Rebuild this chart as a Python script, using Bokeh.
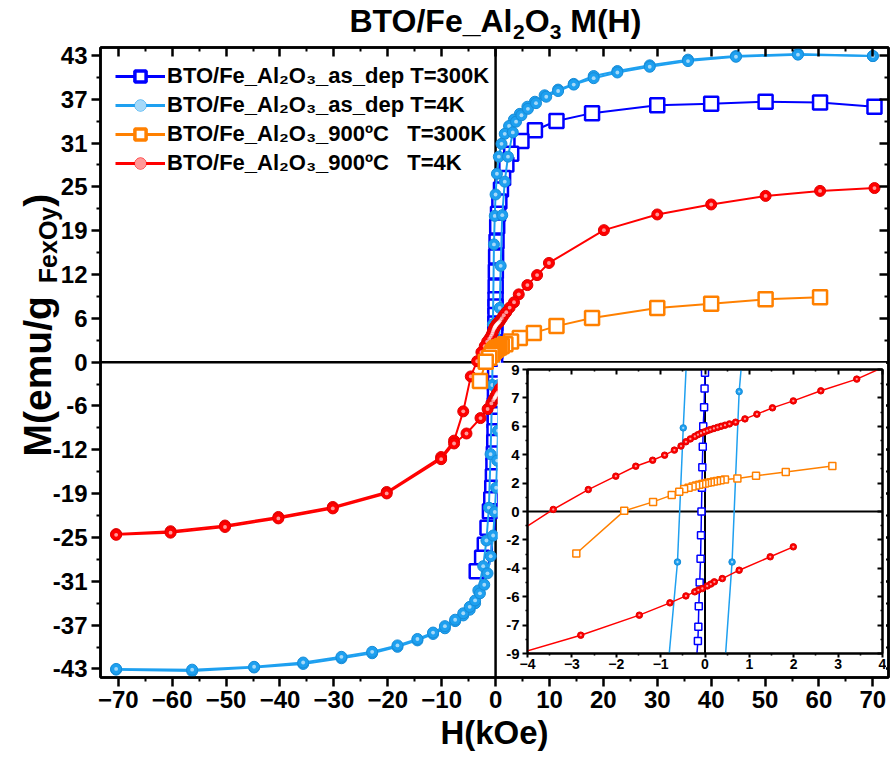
import math

from jinja2 import Template
from bokeh.plotting import figure
from bokeh.models import (Range1d, LinearAxis, FixedTicker, Span, Legend, LegendItem,
                          Label, ColumnDataSource, CustomLabelingPolicy)
from bokeh.embed import file_html
from bokeh.resources import INLINE

FONT = "Liberation Sans"

# ---------------------------------------------------------------- data
# BTO/Fe_Al2O3 as deposited, T = 300 K (field sweep from +70 kOe down)
H_ASDEP_300 = [70.3, 60.2, 50.1, 40.0, 30.0, 17.9, 11.3, 7.3, 4.8, 2.9, 2.0, 1.4, 1.0, 0.7,
               0.45, 0.3, 0.18, 0.1, 0.05, 0.02, 0.0, -0.01, -0.02, -0.04, -0.05, -0.06,
               -0.07, -0.08, -0.09, -0.10, -0.12, -0.14, -0.15, -0.16, -0.2, -0.25, -0.32,
               -0.4, -0.5, -0.62, -0.8, -1.05, -1.5, -2.0, -2.5, -3.5]
M_ASDEP_300 = [35.8, 36.4, 36.5, 36.2, 36.0, 34.9, 33.8, 32.5, 31.0, 29.2, 27.7, 25.8, 24.2,
               22.5, 20.8, 19.0, 16.9, 14.8, 12.7, 10.6, 8.8, 7.8, 6.6, 5.4, 4.1, 2.8, 1.5,
               0.0, -1.5, -3.0, -4.5, -6.0, -7.3, -8.2, -9.7, -11.2, -12.8, -14.4, -16.0,
               -17.6, -19.2, -20.9, -23.2, -25.6, -27.4, -29.3]

# BTO/Fe_Al2O3 as deposited, T = 4 K (descending and ascending branches)
H_ASDEP_4_DOWN = [70.0, 56.1, 44.6, 35.7, 28.6, 22.6, 18.2, 14.5, 11.6, 9.1, 7.3, 5.9, 4.5,
                  3.4, 2.5, 1.7, 1.1, 0.6, 0.25, 0.0, -0.15, -0.3, -0.49, -0.62, -0.93,
                  -1.24, -1.7, -2.3, -3.2, -3.8, -4.8, -6.0, -7.5, -9.4, -11.6, -14.5,
                  -18.2, -22.9, -28.6, -35.7, -44.8, -56.3, -70.4]
M_ASDEP_4_DOWN = [42.9, 43.2, 42.9, 42.4, 41.6, 40.8, 40.1, 39.0, 38.2, 37.4, 36.5, 35.8,
                  34.8, 34.0, 33.1, 32.0, 30.6, 28.8, 26.4, 23.5, 20.5, 16.5, 5.3, -3.2,
                  -12.9, -20.4, -25.0, -28.6, -32.0, -33.8, -34.7, -35.5, -36.3, -37.3,
                  -38.1, -39.0, -39.9, -40.8, -41.5, -42.3, -42.8, -43.3, -43.1]
H_ASDEP_4_UP = [-70.4, -56.3, -44.8, -35.7, -28.6, -22.9, -18.2, -14.5, -11.6, -9.4, -7.5,
                -6.0, -4.8, -3.8, -2.9, -2.1, -1.5, -0.9, -0.45, -0.15, 0.1, 0.3, 0.45,
                0.61, 0.77, 0.95, 1.24, 1.7, 2.3, 3.2, 3.8, 4.8, 6.0, 7.5, 9.4, 11.6, 14.5,
                18.2, 22.6, 28.6, 35.7, 44.6, 56.1, 70.0]
M_ASDEP_4_UP = [-43.0, -43.1, -42.7, -42.1, -41.3, -40.6, -39.7, -38.8, -37.9, -37.0, -36.1,
                -35.2, -34.3, -33.4, -32.4, -31.2, -29.6, -27.2, -24.3, -21.0, -17.6, -13.8,
                -9.6, -3.2, 7.6, 13.5, 20.6, 25.3, 28.8, 32.2, 33.7, 34.6, 35.5, 36.3, 37.2,
                38.0, 38.9, 39.8, 40.6, 41.4, 42.2, 42.8, 43.1, 42.9]

# BTO/Fe_Al2O3 annealed at 900 ºC, T = 300 K
H_900_300 = [60.2, 50.1, 40.0, 30.0, 17.9, 11.3, 7.1, 4.5, 2.87, 1.82, 1.15, 0.73, 0.45,
             0.35, 0.27, 0.2, 0.13, 0.06, 0.0, -0.06, -0.13, -0.2, -0.28, -0.37, -0.47,
             -0.58, -0.75, -1.17, -1.82, -2.9]
M_900_300 = [9.1, 8.8, 8.2, 7.6, 6.2, 5.05, 4.1, 3.4, 2.89, 2.51, 2.26, 2.09, 2.03, 1.98,
             1.94, 1.9, 1.86, 1.82, 1.78, 1.74, 1.69, 1.64, 1.58, 1.5, 1.43, 1.25, 1.04,
             0.61, 0.04, -2.66]

# BTO/Fe_Al2O3 annealed at 900 ºC, T = 4 K (descending and ascending branches)
H_900_4_DOWN = [70.3, 60.2, 50.1, 40.0, 30.0, 20.1, 9.9, 7.7, 5.9, 4.3, 3.42, 2.61, 1.99,
                1.52, 1.17, 0.90, 0.69, 0.55, 0.45, 0.36, 0.28, 0.2, 0.12, 0.05, -0.02,
                -0.09, -0.16, -0.23, -0.33, -0.43, -0.54, -0.69, -0.91, -1.18, -1.56,
                -2.01, -2.63, -3.42, -4.6, -6.0, -7.7, -10.1, -20.2, -30.2, -40.3, -50.2,
                -60.3, -70.4]
M_900_4_DOWN = [24.4, 24.0, 23.3, 22.1, 20.7, 18.5, 13.9, 12.2, 10.8, 9.5, 8.39, 7.65, 7.01,
                6.57, 6.17, 5.87, 5.66, 5.55, 5.47, 5.40, 5.33, 5.26, 5.19, 5.12, 5.04,
                4.96, 4.87, 4.76, 4.60, 4.42, 4.15, 3.89, 3.57, 3.25, 2.87, 2.24, 1.39,
                0.13, -2.0, -6.9, -11.0, -13.3, -18.2, -20.3, -21.7, -22.9, -23.7, -24.1]
H_900_4_UP = [-70.4, -60.3, -50.2, -40.3, -30.2, -20.2, -10.1, -7.7, -5.4, -2.8, -1.48,
              -0.79, -0.43, -0.23, -0.15, -0.06, 0.05, 0.13, 0.21, 0.39, 0.77, 1.47, 1.99]
M_900_4_UP = [-24.2, -23.9, -23.1, -21.9, -20.5, -18.4, -13.6, -11.4, -10.0, -7.84, -6.57,
              -5.79, -5.35, -5.09, -4.98, -4.88, -4.72, -4.6, -4.46, -4.25, -3.72, -2.87,
              -2.24]

LABELS = ["BTO/Fe_Al\u2082O\u2083_as_dep T=300K",
          "BTO/Fe_Al\u2082O\u2083_as_dep T=4K",
          "BTO/Fe_Al\u2082O\u2083_900\u00baC\u00a0\u00a0\u00a0T=300K",
          "BTO/Fe_Al\u2082O\u2083_900\u00baC\u00a0\u00a0\u00a0T=4K"]

# axis ticks
X_TICKS = [-70, -60, -50, -40, -30, -20, -10, 0, 10, 20, 30, 40, 50, 60, 70]
Y_TICKS = [-43, -36.8571, -30.7143, -24.5714, -18.4286, -12.2857, -6.1429, 0,
           6.1429, 12.2857, 18.4286, 24.5714, 30.7143, 36.8571, 43]
Y_TICK_LABELS = ["-43", "-37", "-31", "-25", "-19", "-12", "-6", "0",
                 "6", "12", "19", "25", "31", "37", "43"]
INSET_X_TICKS = [-4, -3, -2, -1, 0, 1, 2, 3, 4]
INSET_Y_TICKS = [-9, -7.2, -5.4, -3.6, -1.8, 0, 1.8, 3.6, 5.4, 7.2, 9]
INSET_Y_TICK_LABELS = ["-9", "-7", "-6", "-4", "-2", "0", "2", "4", "6", "7", "9"]

BLUE, SKY, ORANGE, RED = "#0000FF", "#1EA0F0", "#FF8000", "#FF0000"
SKY_EDGE, RED_EDGE = "#168CD8", "#E00000"


def midpoints(ticks):
    return [(a + b) / 2 for a, b in zip(ticks[:-1], ticks[1:])]


def style_axis(ax, size, tick_in, tick_out, labels=True, lw=2.5):
    ax.axis_line_color = "black"
    ax.axis_line_width = lw
    ax.major_tick_line_color = "black"
    ax.major_tick_line_width = lw
    ax.minor_tick_line_color = "black"
    ax.minor_tick_line_width = lw * 0.8
    ax.major_tick_in, ax.major_tick_out = tick_in, tick_out
    ax.minor_tick_in, ax.minor_tick_out = tick_in // 2, tick_out // 2
    ax.major_label_text_font = FONT
    ax.major_label_text_font_style = "bold"
    ax.major_label_text_font_size = size
    ax.major_label_text_color = "black"
    if not labels:
        # mirrored axis: tick marks only, no tick labels
        ax.major_label_policy = CustomLabelingPolicy(code="return []")
        ax.major_label_text_alpha = 0
        ax.major_label_standoff = 0


def add_curve(fig, h, m, color, marker, size, lw, square_lw):
    src = ColumnDataSource(dict(h=h, m=m))
    fig.line("h", "m", source=src, line_color=color, line_width=lw)
    if marker == "square":
        fig.scatter("h", "m", source=src, marker="square", size=size, fill_color="white",
                    line_color=color, line_width=square_lw)
    else:
        edge = SKY_EDGE if color == SKY else RED_EDGE
        fig.scatter("h", "m", source=src, marker="circle", size=size, fill_color=color,
                    line_color=edge, line_width=1)
        fig.scatter("h", "m", source=src, marker="circle", size=size * 0.35,
                    fill_color="white", fill_alpha=0.6, line_alpha=0)


def draw_all(fig, sq, circ, lw, square_lw, orange_hmax=None):
    h_o, m_o = H_900_300, M_900_300
    if orange_hmax is not None:
        # low-field part of the 300 K sweep only
        keep = [i for i, h in enumerate(h_o) if h <= orange_hmax]
        h_o = [h_o[i] for i in keep]
        m_o = [m_o[i] for i in keep]
    add_curve(fig, H_ASDEP_300, M_ASDEP_300, BLUE, "square", sq, lw, square_lw)
    add_curve(fig, H_ASDEP_4_DOWN, M_ASDEP_4_DOWN, SKY, "circle", circ, lw, square_lw)
    add_curve(fig, H_ASDEP_4_UP, M_ASDEP_4_UP, SKY, "circle", circ, lw, square_lw)
    add_curve(fig, H_900_4_DOWN, M_900_4_DOWN, RED, "circle", circ, lw, square_lw)
    add_curve(fig, H_900_4_UP, M_900_4_UP, RED, "circle", circ, lw, square_lw)
    add_curve(fig, h_o, m_o, ORANGE, "square", sq, lw, square_lw)


# ---------------------------------------------------------------- main plot
main = figure(width=890, height=758, x_range=Range1d(-73.3, 72.9),
              y_range=Range1d(-44.2, 44.1), output_backend="svg", toolbar_location=None,
              min_border_left=100, min_border_right=2, min_border_top=47,
              min_border_bottom=81, name="main")
main.grid.visible = False
main.outline_line_color = "black"
main.outline_line_width = 2.5
main.background_fill_color = "white"
main.border_fill_color = "white"

xb = main.xaxis[0]
xb.ticker = FixedTicker(ticks=X_TICKS, minor_ticks=midpoints(X_TICKS))
style_axis(xb, "24px", 0, 9)
xb.major_label_standoff = 4
xb.axis_label = "H(kOe)"
xb.axis_label_text_font = FONT
xb.axis_label_text_font_style = "bold"
xb.axis_label_text_font_size = "33px"
xb.axis_label_text_color = "black"
xb.axis_label_standoff = 3

yl = main.yaxis[0]
yl.ticker = FixedTicker(ticks=Y_TICKS, minor_ticks=midpoints(Y_TICKS))
yl.major_label_overrides = dict(zip(Y_TICKS, Y_TICK_LABELS))
style_axis(yl, "24px", 0, 9)
yl.major_label_standoff = 4

top = LinearAxis(ticker=FixedTicker(ticks=X_TICKS, minor_ticks=midpoints(X_TICKS)))
style_axis(top, "10px", 9, 0, labels=False)
main.add_layout(top, "above")
right = LinearAxis(ticker=FixedTicker(ticks=Y_TICKS, minor_ticks=midpoints(Y_TICKS)))
style_axis(right, "10px", 9, 0, labels=False)
main.add_layout(right, "right")

for dim in ("width", "height"):
    main.add_layout(Span(location=0, dimension=dim, line_color="black", line_width=2.5,
                         level="underlay"))

draw_all(main, 14, 11, 2, 2.5)

# legend samples: hidden copies of the curves with larger markers
legend_sets = [(H_ASDEP_300, M_ASDEP_300, BLUE, "square"),
               (H_ASDEP_4_DOWN, M_ASDEP_4_DOWN, SKY, "circle"),
               (H_900_300, M_900_300, ORANGE, "square"),
               (H_900_4_DOWN, M_900_4_DOWN, RED, "circle")]
legend_items = []
for label, (h, m, color, marker) in zip(LABELS, legend_sets):
    src = ColumnDataSource(dict(h=h, m=m))
    rs = [main.line("h", "m", source=src, line_color=color, line_width=3)]
    if marker == "square":
        rs.append(main.scatter("h", "m", source=src, marker="square", size=18,
                               fill_color="white", line_color=color, line_width=3.5))
    else:
        rs.append(main.scatter("h", "m", source=src, marker="circle", size=15,
                               fill_color=color, line_color=color, line_width=1))
        rs.append(main.scatter("h", "m", source=src, marker="circle", size=5,
                               fill_color="white", fill_alpha=0.6, line_alpha=0))
    for r in rs:
        r.visible = False
    legend_items.append(LegendItem(label=label, renderers=rs))

legend = Legend(items=legend_items, location="top_left", margin=6, padding=9,
                spacing=1, glyph_width=50, glyph_height=28, label_standoff=2,
                label_text_font=FONT, label_text_font_style="bold",
                label_text_font_size="22px", label_text_color="black",
                border_line_alpha=0, background_fill_alpha=0)
main.add_layout(legend)

# ---------------------------------------------------------------- text layer
# transparent page-sized layer (pixel ranges, y down) for the title and the
# rotated y label, both of which carry subscripts
texts = figure(width=890, height=758, x_range=Range1d(0, 890), y_range=Range1d(758, 0),
               output_backend="svg", toolbar_location=None, title=None,
               x_axis_location=None, y_axis_location=None, min_border=0, name="texts")
texts.grid.visible = False
texts.outline_line_color = None
texts.background_fill_alpha = 0
texts.border_fill_alpha = 0


def piece(x, y, text, size, angle=0.0):
    texts.add_layout(Label(x=x, y=y, text=text, angle=angle, text_font=FONT,
                           text_font_style="bold", text_font_size=size,
                           text_color="black", text_baseline="middle",
                           text_align="left"))


# title: BTO/Fe_Al2O3 M(H)  (anchors at the middle of each text run)
ty, sub_y = 20, 31
piece(349.0, ty, "BTO/Fe_Al", "32px")
piece(512.6, sub_y, "2", "21px")
piece(524.3, ty, "O", "32px")
piece(549.2, sub_y, "3", "21px")
piece(569.8, ty, "M(H)", "32px")

# y label: M(emu/g_FexOy), reading bottom to top
piece(37, 456, "M(emu/g", "39px", math.pi / 2)
piece(47, 456 - 173.3, "FexOy", "25px", math.pi / 2)
piece(37, 456 - 173.3 - 76.4, ")", "39px", math.pi / 2)

# ---------------------------------------------------------------- inset
inset = figure(frame_width=355, frame_height=284, x_range=Range1d(-4, 4),
               y_range=Range1d(-9, 9), output_backend="svg", toolbar_location=None,
               min_border_left=30, min_border_right=4, min_border_top=7,
               min_border_bottom=22, name="inset")
inset.grid.visible = False
inset.outline_line_color = "black"
inset.outline_line_width = 2
inset.background_fill_color = "white"
inset.border_fill_color = "white"

ib = inset.xaxis[0]
ib.ticker = FixedTicker(ticks=INSET_X_TICKS, minor_ticks=midpoints(INSET_X_TICKS))
style_axis(ib, "14px", 0, 4, lw=2)
ib.major_label_standoff = 1
il = inset.yaxis[0]
il.ticker = FixedTicker(ticks=INSET_Y_TICKS, minor_ticks=midpoints(INSET_Y_TICKS))
il.major_label_overrides = dict(zip(INSET_Y_TICKS, INSET_Y_TICK_LABELS))
style_axis(il, "15px", 0, 5, lw=2)
il.major_label_standoff = 3
itop = LinearAxis(ticker=FixedTicker(ticks=INSET_X_TICKS, minor_ticks=midpoints(INSET_X_TICKS)))
style_axis(itop, "10px", 5, 0, labels=False, lw=2)
inset.add_layout(itop, "above")
iright = LinearAxis(ticker=FixedTicker(ticks=INSET_Y_TICKS, minor_ticks=midpoints(INSET_Y_TICKS)))
style_axis(iright, "10px", 5, 0, labels=False, lw=2)
inset.add_layout(iright, "right")

for dim in ("width", "height"):
    inset.add_layout(Span(location=0, dimension=dim, line_color="black", line_width=2,
                          level="underlay"))

draw_all(inset, 7, 6.5, 1.5, 1.5, orange_hmax=4)

# ---------------------------------------------------------------- page
# the three roots are stacked with absolute positions: plot, text layer, inset
PAGE = Template("""{% from macros import embed %}
<!DOCTYPE html>
<html lang="en">
<head>
<meta charset="utf-8">
<title>{{ title }}</title>
<style>html, body { margin: 0; padding: 0; background: white; }</style>
{{ bokeh_css }}
{{ bokeh_js }}
</head>
<body>
<div style="position:absolute; left:0px; top:0px;">{{ embed(roots.main) }}</div>
<div style="position:absolute; left:0px; top:0px;">{{ embed(roots.texts) }}</div>
<div style="position:absolute; left:497px; top:362px;">{{ embed(roots.inset) }}</div>
{{ plot_script }}
</body>
</html>
""")

with open("out.html", "w") as f:
    f.write(file_html([main, texts, inset], INLINE, title="BTO/Fe_Al2O3 M(H)",
                      template=PAGE))
